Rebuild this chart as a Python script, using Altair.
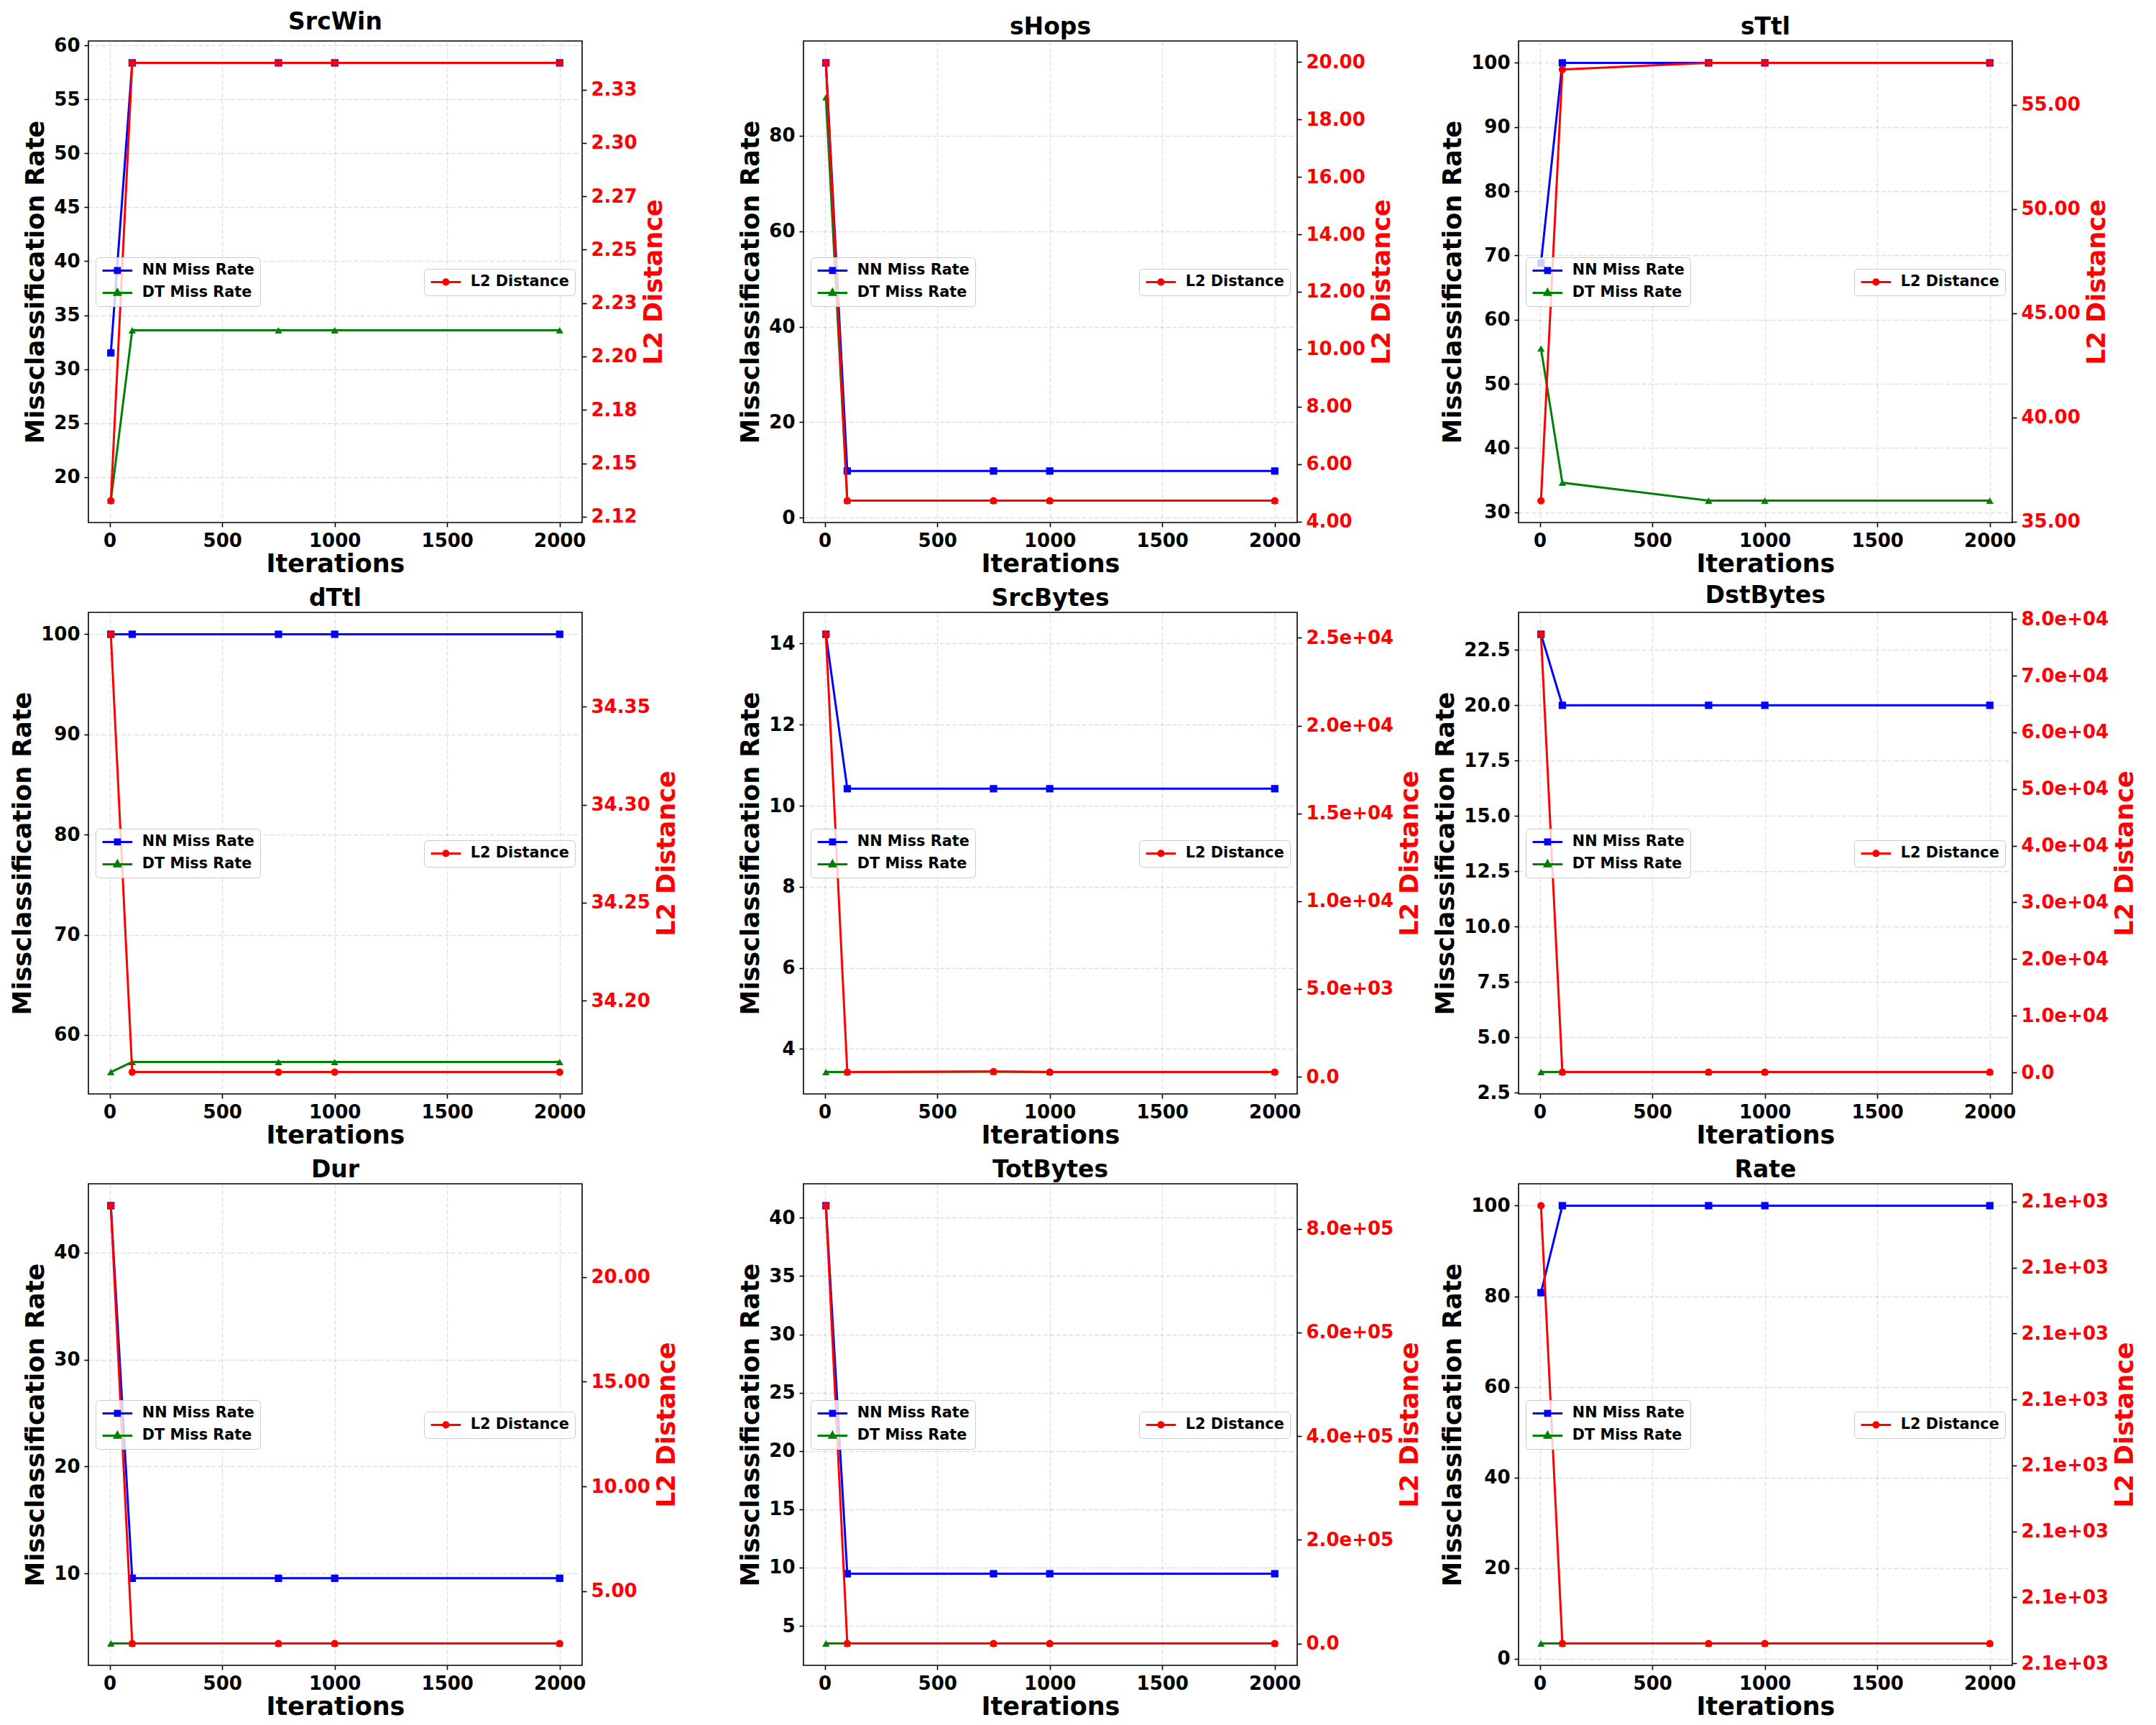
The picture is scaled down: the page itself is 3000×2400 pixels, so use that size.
import altair as alt
import pandas as pd

FONT = "DejaVu Sans"

# ---------------- data ----------------
iterations = [5, 100, 750, 1000, 2000]
features = ["SrcWin", "sHops", "sTtl", "dTtl", "SrcBytes", "DstBytes", "Dur", "TotBytes", "Rate"]

srcwin_nn = [31.5, 58.4, 58.4, 58.4, 58.4]
srcwin_dt = [17.8, 33.6, 33.6, 33.6, 33.6]
srcwin_l2 = [2.1325, 2.3375, 2.3375, 2.3375, 2.3375]

shops_nn = [95.2, 9.8, 9.8, 9.8, 9.8]
shops_dt = [88.0, 3.6, 3.6, 3.6, 3.6]
shops_l2 = [19.97, 4.73, 4.73, 4.73, 4.73]

sttl_nn = [68.8, 100.0, 100.0, 100.0, 100.0]
sttl_dt = [55.5, 34.6, 31.8, 31.8, 31.8]
sttl_l2 = [36.0, 56.7, 57.02, 57.02, 57.02]

dttl_nn = [100.0, 100.0, 100.0, 100.0, 100.0]
dttl_dt = [56.3, 57.3, 57.3, 57.3, 57.3]
dttl_l2 = [34.387, 34.1635, 34.1635, 34.1635, 34.1635]

srcbytes_nn = [14.23, 10.42, 10.42, 10.42, 10.42]
srcbytes_dt = [3.43, 3.43, 3.44, 3.43, 3.43]
srcbytes_l2 = [25200.0, 270.0, 300.0, 270.0, 270.0]

dstbytes_nn = [23.21, 20.0, 20.0, 20.0, 20.0]
dstbytes_dt = [3.43, 3.43, 3.43, 3.43, 3.43]
dstbytes_l2 = [77300.0, 60.0, 60.0, 60.0, 60.0]

dur_nn = [44.38, 9.56, 9.56, 9.56, 9.56]
dur_dt = [3.47, 3.47, 3.47, 3.47, 3.47]
dur_l2 = [23.41, 2.5, 2.5, 2.5, 2.5]

totbytes_nn = [41.04, 9.47, 9.47, 9.47, 9.47]
totbytes_dt = [3.49, 3.49, 3.49, 3.49, 3.49]
totbytes_l2 = [844500.0, 300.0, 300.0, 300.0, 300.0]

rate_nn = [80.8, 100.0, 100.0, 100.0, 100.0]
rate_dt = [3.4, 3.4, 3.4, 3.4, 3.4]
rate_l2 = [2104.35547, 2104.35215, 2104.35215, 2104.35215, 2104.35215]

nn_rates = [srcwin_nn, shops_nn, sttl_nn, dttl_nn, srcbytes_nn, dstbytes_nn, dur_nn, totbytes_nn, rate_nn]
dt_rates = [srcwin_dt, shops_dt, sttl_dt, dttl_dt, srcbytes_dt, dstbytes_dt, dur_dt, totbytes_dt, rate_dt]
l2_dists = [srcwin_l2, shops_l2, sttl_l2, dttl_l2, srcbytes_l2, dstbytes_l2, dur_l2, totbytes_l2, rate_l2]

# tick values and labels
x_ticks = [0, 500, 1000, 1500, 2000]

left_ticks = [
    [20, 25, 30, 35, 40, 45, 50, 55, 60],
    [0, 20, 40, 60, 80],
    [30, 40, 50, 60, 70, 80, 90, 100],
    [60, 70, 80, 90, 100],
    [4, 6, 8, 10, 12, 14],
    [2.5, 5.0, 7.5, 10.0, 12.5, 15.0, 17.5, 20.0, 22.5],
    [10, 20, 30, 40],
    [5, 10, 15, 20, 25, 30, 35, 40],
    [0, 20, 40, 60, 80, 100],
]
left_labels = [
    ["20", "25", "30", "35", "40", "45", "50", "55", "60"],
    ["0", "20", "40", "60", "80"],
    ["30", "40", "50", "60", "70", "80", "90", "100"],
    ["60", "70", "80", "90", "100"],
    ["4", "6", "8", "10", "12", "14"],
    ["2.5", "5.0", "7.5", "10.0", "12.5", "15.0", "17.5", "20.0", "22.5"],
    ["10", "20", "30", "40"],
    ["5", "10", "15", "20", "25", "30", "35", "40"],
    ["0", "20", "40", "60", "80", "100"],
]
right_ticks = [
    [2.125, 2.15, 2.175, 2.2, 2.225, 2.25, 2.275, 2.3, 2.325],
    [4, 6, 8, 10, 12, 14, 16, 18, 20],
    [35, 40, 45, 50, 55],
    [34.20, 34.25, 34.30, 34.35],
    [0, 5000, 10000, 15000, 20000, 25000],
    [0, 10000, 20000, 30000, 40000, 50000, 60000, 70000, 80000],
    [5, 10, 15, 20],
    [0, 200000, 400000, 600000, 800000],
    [2104.3520, 2104.3525, 2104.3530, 2104.3535, 2104.3540, 2104.3545, 2104.3550, 2104.3555],
]
right_labels = [
    ["2.12", "2.15", "2.18", "2.20", "2.23", "2.25", "2.27", "2.30", "2.33"],
    ["4.00", "6.00", "8.00", "10.00", "12.00", "14.00", "16.00", "18.00", "20.00"],
    ["35.00", "40.00", "45.00", "50.00", "55.00"],
    ["34.20", "34.25", "34.30", "34.35"],
    ["0.0", "5.0e+03", "1.0e+04", "1.5e+04", "2.0e+04", "2.5e+04"],
    ["0.0", "1.0e+04", "2.0e+04", "3.0e+04", "4.0e+04", "5.0e+04", "6.0e+04", "7.0e+04", "8.0e+04"],
    ["5.00", "10.00", "15.00", "20.00"],
    ["0.0", "2.0e+05", "4.0e+05", "6.0e+05", "8.0e+05"],
    ["2.1e+03"] * 8,
]

series_left = ["NN Miss Rate", "DT Miss Rate"]
series_right = ["L2 Distance"]
colors_left = ["blue", "green"]
colors_right = ["red"]

# ---------------- styling ----------------
W, H = 687, 670
TICK_FS = 26
TITLE_FS = 35
PANEL_TITLE_FS = 33
LEG_FS = 20.8
LINE_W = 3
MARK_SIZE = 105
LEG_SYM = 256  # legend symbol box 16px; paths reach beyond it to draw the handle line

PATH_SQ = "M-2.6,0L2.6,0M-0.42,-0.42L0.42,-0.42L0.42,0.42L-0.42,0.42Z"
PATH_TRI = "M-2.6,0L2.6,0M0,-0.56L0.5,0.36L-0.5,0.36Z"
PATH_CIR = "M-2.6,0L2.6,0M-0.45,0A0.45,0.45,0,1,0,0.45,0A0.45,0.45,0,1,0,-0.45,0Z"


def mpl_domain(vals):
    lo, hi = min(vals), max(vals)
    m = 0.05 * (hi - lo)
    return [lo - m, hi + m]


def label_expr(vals, labs):
    expr = "''"
    for v, l in zip(reversed(vals), reversed(labs)):
        expr = f"datum.value == {v!r} ? '{l}' : ({expr})"
    return expr


def legend(x, y):
    return alt.Legend(
        title=None, orient="none", legendX=x, legendY=y,
        symbolSize=LEG_SYM, symbolStrokeWidth=LINE_W, symbolOpacity=1, symbolOffset=12,
        labelFont=FONT, labelFontSize=LEG_FS, labelFontWeight="bold", labelColor="black",
        labelOffset=24, rowPadding=9, padding=8,
        fillColor="rgba(255,255,255,0.8)", strokeColor="#cccccc", cornerRadius=5,
    )


def panel(i):
    name = features[i]
    left_df = pd.DataFrame({
        "Iterations": iterations * 2,
        "rate": nn_rates[i] + dt_rates[i],
        "series": [series_left[0]] * len(iterations) + [series_left[1]] * len(iterations),
    })
    right_df = pd.DataFrame({
        "Iterations": iterations,
        "l2": l2_dists[i],
        "series": series_right * len(iterations),
    })

    x = alt.X("Iterations:Q",
              scale=alt.Scale(domain=mpl_domain(iterations), nice=False, zero=False),
              axis=alt.Axis(values=x_ticks, format="d", title="Iterations", grid=True,
                            labelFlush=False, titlePadding=2))
    yl = alt.Y("rate:Q",
               scale=alt.Scale(domain=mpl_domain(nn_rates[i] + dt_rates[i]), nice=False, zero=False),
               axis=alt.Axis(orient="left", values=left_ticks[i],
                             labelExpr=label_expr(left_ticks[i], left_labels[i]),
                             title="Missclassification Rate", grid=True, labelFlush=False,
                             titlePadding=7))
    yr = alt.Y("l2:Q",
               scale=alt.Scale(domain=mpl_domain(l2_dists[i]), nice=False, zero=False),
               axis=alt.Axis(orient="right", values=right_ticks[i],
                             labelExpr=label_expr(right_ticks[i], right_labels[i]),
                             title="L2 Distance", grid=False, labelFlush=False,
                             labelColor="red", titleColor="red", titleAngle=270,
                             titleBaseline="top", titlePadding=6))

    bl = alt.Chart(left_df)
    nn_line = bl.transform_filter(alt.datum.series == series_left[0]).mark_line(
        color=colors_left[0], strokeWidth=LINE_W).encode(x=x, y=yl)
    nn_pts = bl.transform_filter(alt.datum.series == series_left[0]).mark_point(
        shape="square", filled=True, size=MARK_SIZE, color=colors_left[0], opacity=1).encode(x=x, y=yl)
    dt_line = bl.transform_filter(alt.datum.series == series_left[1]).mark_line(
        color=colors_left[1], strokeWidth=LINE_W).encode(x=x, y=yl)
    dt_pts = bl.transform_filter(alt.datum.series == series_left[1]).mark_point(
        shape="triangle-up", filled=True, size=MARK_SIZE, color=colors_left[1], opacity=1).encode(x=x, y=yl)
    leg_l = legend(10, 301)
    leg_left = bl.mark_point(opacity=0, size=LEG_SYM).encode(
        x=x, y=yl,
        fill=alt.Fill("series:N", scale=alt.Scale(domain=series_left, range=colors_left), legend=leg_l),
        stroke=alt.Stroke("series:N", scale=alt.Scale(domain=series_left, range=colors_left), legend=leg_l),
        shape=alt.Shape("series:N", scale=alt.Scale(domain=series_left, range=[PATH_SQ, PATH_TRI]), legend=leg_l),
    )
    left = alt.layer(nn_line, nn_pts, dt_line, dt_pts, leg_left)

    br = alt.Chart(right_df)
    l2_line = br.mark_line(color=colors_right[0], strokeWidth=LINE_W).encode(x=x, y=yr)
    l2_pts = br.mark_point(shape="circle", filled=True, size=MARK_SIZE, color=colors_right[0],
                           opacity=1).encode(x=x, y=yr)
    leg_r = legend(467, 317)
    leg_right = br.mark_point(opacity=0, size=LEG_SYM).encode(
        x=x, y=yr,
        fill=alt.Fill("series:N", scale=alt.Scale(domain=series_right, range=colors_right), legend=leg_r),
        stroke=alt.Stroke("series:N", scale=alt.Scale(domain=series_right, range=colors_right), legend=leg_r),
        shape=alt.Shape("series:N", scale=alt.Scale(domain=series_right, range=[PATH_CIR]), legend=leg_r),
    )
    right = alt.layer(l2_line, l2_pts, leg_right)

    return alt.layer(left, right).resolve_scale(
        y="independent", fill="independent", stroke="independent", shape="independent"
    ).properties(
        width=W, height=H,
        title=alt.TitleParams(name, font=FONT, fontSize=PANEL_TITLE_FS, fontWeight="bold", offset=2),
    )


chart = alt.concat(*[panel(i) for i in range(9)], columns=3,
                   spacing={"row": 125, "column": 308}, bounds="flush").configure(
    background="white", padding={"left": 5, "top": 6, "right": 5, "bottom": 5},
).configure_view(
    stroke="black", strokeWidth=1.6,
).configure_axis(
    labelFont=FONT, labelFontSize=TICK_FS, labelFontWeight="bold", labelColor="black",
    titleFont=FONT, titleFontSize=TITLE_FS, titleFontWeight="bold", titleColor="black",
    domain=False, tickColor="black", tickWidth=1.6, tickSize=6, labelPadding=6,
    gridColor="#b0b0b0", gridOpacity=0.4, gridDash=[6, 3], gridWidth=1.3,
    labelOverlap=False,
)

chart.save("out.html", embed_options={"renderer": "svg", "actions": False})
